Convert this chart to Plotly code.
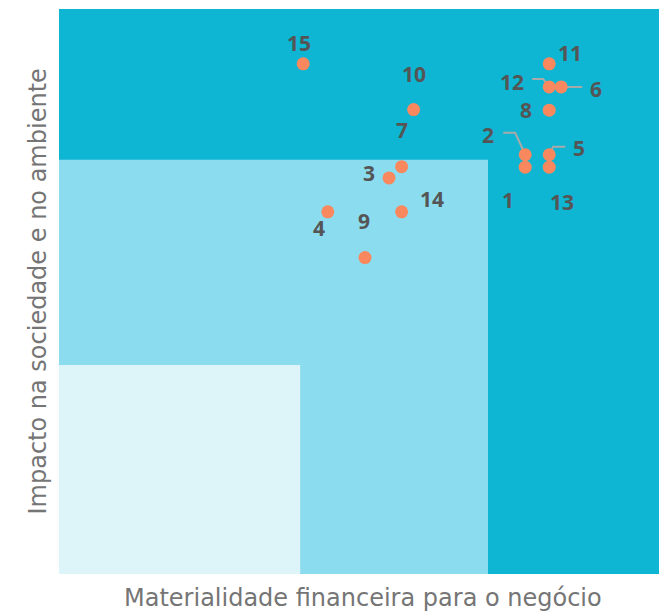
import plotly.graph_objects as go

# Data
labels = ["1", "2", "3", "4", "5", "6", "7", "8", "9", "10", "11", "12", "13", "14", "15"]
fin_materiality = [7.77, 7.77, 5.50, 4.48, 8.17, 8.37, 5.71, 8.17, 5.10, 5.91, 8.17, 8.17, 8.17, 5.71, 4.07]
impact = [7.20, 7.42, 7.01, 6.41, 7.42, 8.62, 7.21, 8.21, 5.60, 8.22, 9.03, 8.62, 7.20, 6.41, 9.03]

# zone thresholds (x, y)
zone_low = (4.02, 3.70)
zone_mid = (7.15, 7.33)

x_title = "Materialidade financeira para o negócio"
y_title = "Impacto na sociedade e no ambiente"

# Styles
C_DARK = "rgb(14,182,212)"
C_MID = "rgb(138,220,238)"
C_LIGHT = "rgb(221,244,249)"
C_DOT = "rgb(250,136,94)"
C_TXT = "#555555"
C_LEAD = "#a9a9a9"

W, H = 659, 613
ML, MR, MT, MB = 59, 0, 9, 39
XR = (0, 10)
YR = (0, 10)
px_x = (W - ML - MR) / (XR[1] - XR[0])
px_y = (H - MT - MB) / (YR[1] - YR[0])

# label offsets in pixels (dx right, dy down)
label_off = {
    "1": (-17, 33), "2": (-37, -20), "3": (-20, -5), "4": (-9, 16), "5": (30, -7),
    "6": (35, 2), "7": (0, -37), "8": (-23, 0), "9": (-1, -37), "10": (0, -36),
    "11": (21, -11), "12": (-37, -5), "13": (13, 35), "14": (30, -13), "15": (-4, -21),
}
# leader lines: pixel offsets from point
leaders = {
    "12": [(0, 0), (-6, -8), (-17, -8)],
    "6": [(0, 0), (21, 0)],
    "2": [(0, 0), (-10, -22), (-22, -22)],
    "5": [(0, 0), (4, -8), (16, -8)],
}

fig = go.Figure()

for lab, pts in leaders.items():
    i = labels.index(lab)
    xs = [fin_materiality[i] + dx / px_x for dx, dy in pts]
    ys = [impact[i] - dy / px_y for dx, dy in pts]
    fig.add_trace(go.Scatter(x=xs, y=ys, mode="lines", line=dict(color=C_LEAD, width=2),
                             hoverinfo="skip", showlegend=False))

fig.add_trace(go.Scatter(
    x=fin_materiality, y=impact, mode="markers",
    marker=dict(color=C_DOT, size=13, line=dict(width=0)),
    text=labels, showlegend=False,
))

annotations = []
for lab, xv, yv in zip(labels, fin_materiality, impact):
    dx, dy = label_off[lab]
    annotations.append(dict(
        x=xv, y=yv, xref="x", yref="y", text=f"<b>{lab}</b>", showarrow=False,
        xshift=dx, yshift=-dy, font=dict(family="Open Sans", size=21, color=C_TXT),
        xanchor="center", yanchor="middle",
    ))

annotations.append(dict(x=0.5, y=0, xref="paper", yref="paper", text=x_title, showarrow=False,
                        yshift=-24, xshift=4, xanchor="center", yanchor="middle",
                        font=dict(family="DejaVu Sans", size=24, color="#757575")))
annotations.append(dict(x=0, y=0.5, xref="paper", yref="paper", text=y_title, showarrow=False,
                        xshift=-22, textangle=-90, xanchor="center", yanchor="middle",
                        font=dict(family="DejaVu Sans", size=24, color="#757575")))

shapes = [
    dict(type="rect", xref="x", yref="y", x0=XR[0], x1=zone_mid[0], y0=YR[0], y1=zone_mid[1],
         fillcolor=C_MID, line=dict(width=0), layer="below"),
    dict(type="rect", xref="x", yref="y", x0=XR[0], x1=zone_low[0], y0=YR[0], y1=zone_low[1],
         fillcolor=C_LIGHT, line=dict(width=0), layer="below"),
]

fig.update_layout(
    width=W, height=H,
    margin=dict(l=ML, r=MR, t=MT, b=MB),
    paper_bgcolor="white", plot_bgcolor=C_DARK,
    xaxis=dict(range=list(XR), showgrid=False, zeroline=False, showticklabels=False, fixedrange=True),
    yaxis=dict(range=list(YR), showgrid=False, zeroline=False, showticklabels=False, fixedrange=True),
    shapes=shapes, annotations=annotations,
)

fig.write_html("out.html", config={"displayModeBar": False},
               post_script="document.body.style.margin='0';document.body.style.overflow='hidden';")
